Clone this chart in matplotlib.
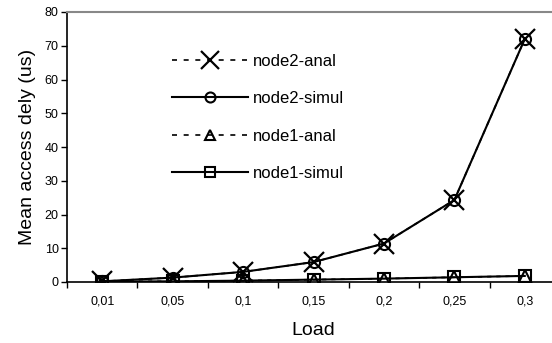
import matplotlib
matplotlib.use("Agg")
import matplotlib.pyplot as plt
import numpy as np

plt.rcParams["font.family"] = ["Liberation Sans", "DejaVu Sans"]

categories = ["0,01", "0,05", "0,1", "0,15", "0,2", "0,25", "0,3"]
node2_anal = [0.2, 1.3, 3.0, 5.9, 11.4, 24.3, 72.0]
node2_simul = [0.2, 1.3, 3.0, 5.9, 11.4, 24.3, 72.0]
node1_anal = [0.1, 0.2, 0.4, 0.7, 1.0, 1.4, 1.8]
node1_simul = [0.1, 0.2, 0.4, 0.7, 1.0, 1.4, 1.8]
yticks = [0, 10, 20, 30, 40, 50, 60, 70, 80]

fig = plt.figure(figsize=(5.52, 3.43), dpi=100)
W, H = 552, 343
ax = fig.add_axes([67 / W, 1 - 282 / H, (560 - 67) / W, (282 - 12) / H])
x = np.arange(len(categories))

dash = (0, (2.5, 3))
ax.plot(x, node2_anal, color="black", lw=1.2, ls=dash, marker="x", ms=14, mew=1.6,
        label="node2-anal")
ax.plot(x, node2_simul, color="black", lw=1.5, ls="-", marker="o", ms=8, mew=1.5,
        mfc="none", label="node2-simul")
ax.plot(x, node1_anal, color="black", lw=1.2, ls=dash, marker="^", ms=8, mew=1.5,
        mfc="none", label="node1-anal")
ax.plot(x, node1_simul, color="black", lw=1.5, ls="-", marker="s", ms=8, mew=1.5,
        mfc="none", label="node1-simul")

ax.set_xlim(-0.5, 6.5)
ax.set_ylim(0, 80)
ax.set_yticks(yticks)
ax.set_yticklabels([str(v) for v in yticks], fontsize=9)
ax.set_xticks(np.arange(-0.5, 7, 1))
ax.set_xticklabels([])
ax.set_xticks(x, minor=True)
ax.set_xticklabels(categories, minor=True, fontsize=9)
ax.tick_params(axis="x", which="minor", length=0, pad=10)
ax.tick_params(axis="x", which="major", length=4, direction="out", width=1)
ax.tick_params(axis="y", length=4, direction="out", width=1, pad=2)

ax.spines["right"].set_visible(False)
ax.spines["top"].set_color("#888888")
ax.spines["top"].set_linewidth(1.5)
ax.spines["left"].set_linewidth(1.2)
ax.spines["bottom"].set_linewidth(1.2)

ax.set_ylabel("Mean access dely (us)", fontsize=14, labelpad=6)
ax.set_xlabel("Load", fontsize=14, labelpad=10)

leg = ax.legend(loc="upper left", bbox_to_anchor=((165 - 67) / (560 - 67), 1 - (47 - 12) / 270),
                frameon=False, fontsize=12, handlelength=4.6, handletextpad=0.3,
                labelspacing=1.35, borderaxespad=0, markerscale=0.9)
for line in leg.get_lines():
    if line.get_linestyle() != "-":
        line.set_dashes((3, 4))

fig.savefig("out.png", dpi=100)
